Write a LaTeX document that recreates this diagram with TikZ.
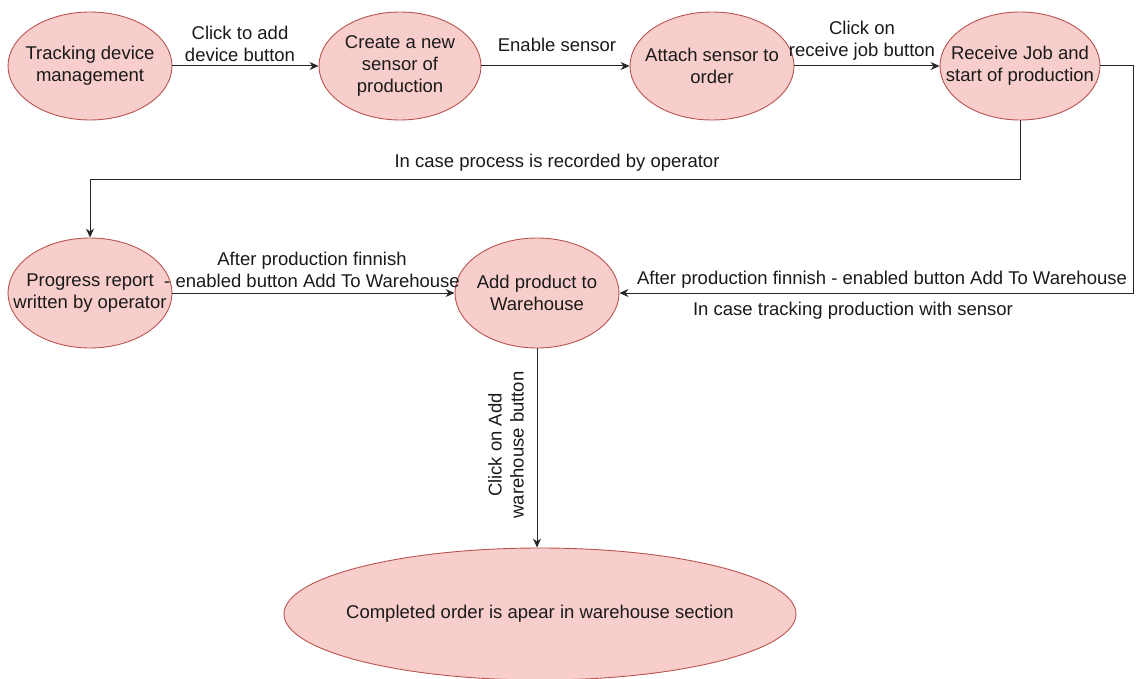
\documentclass[tikz,border=0pt]{standalone}
\usepackage{fontspec}
\setmainfont{Liberation Sans}
\usetikzlibrary{shapes.geometric,arrows.meta}
\definecolor{efill}{HTML}{F8CECC}
\definecolor{edraw}{HTML}{B85450}
\definecolor{txt}{HTML}{1A1A1A}
\begin{document}
\begin{tikzpicture}[x=1pt,y=-1pt,
  lbl/.style={text=txt,align=center,font=\fontsize{18.5}{22}\selectfont,inner sep=1pt},
  st/.style={ellipse,draw=edraw,fill=efill,line width=0.9pt,inner sep=0pt,label={[lbl]center:#1}},
  arr/.style={-{Stealth[length=9pt,width=8pt]},line width=1pt,black!85}]
\useasboundingbox (0,0) rectangle (1146,679);
\node[st={Tracking device\\management},minimum width=164pt,minimum height=108pt] (e1) at (90,66) {};
\node[st={Create a new\\sensor of\\production},minimum width=162pt,minimum height=108pt] (e2) at (400,66) {};
\node[st={Attach sensor to\\order},minimum width=164pt,minimum height=108pt] (e3) at (712,66) {};
\node[st={Receive Job and\\start of production},minimum width=160pt,minimum height=108pt] (e4) at (1020,66) {};
\node[st={Progress report\\written by operator},minimum width=164pt,minimum height=110pt] (e5) at (90,293) {};
\node[st={Add product to\\Warehouse},minimum width=164pt,minimum height=110pt] (e6) at (537,293) {};
\node[st={Completed order is apear in warehouse section},minimum width=512pt,minimum height=132pt] (e7) at (540,614) {};
\coordinate (c1) at (1133,66);
\coordinate (c2) at (1133,293);
\coordinate (c3) at (1020,180);
\coordinate (c4) at (90,180);
\draw[arr] (e1) -- (e2);
\draw[arr] (e2) -- (e3);
\draw[arr] (e3) -- (e4);
\draw[arr] (e4.east) -- (c1) -- (c2) -- (e6.east);
\draw[arr] (e4.south) -- (c3) -- (c4) -- (e5.north);
\draw[arr] (e5) -- (e6);
\draw[arr] (e6.south) -- (e6.south |- e7.north);
\node[lbl] (l1) at (240,44) {Click to add\\device button};
\node[lbl] (l2) at (557,45) {Enable sensor};
\node[lbl] (l3) at (862,41) {Click on\\receive job button};
\node[lbl] (l4) at (557,163) {In case process is recorded by operator};
\node[lbl] (l5) at (312,270) {After production finnish\\- enabled button Add To Warehouse};
\node[lbl] (l6) at (882,280) {After production finnish - enabled button Add To Warehouse};
\node[lbl] (l7) at (853,311) {In case tracking production with sensor};
\node[lbl,rotate=90] (l8) at (506,445) {Click on Add\\warehouse button};
\end{tikzpicture}
\end{document}
